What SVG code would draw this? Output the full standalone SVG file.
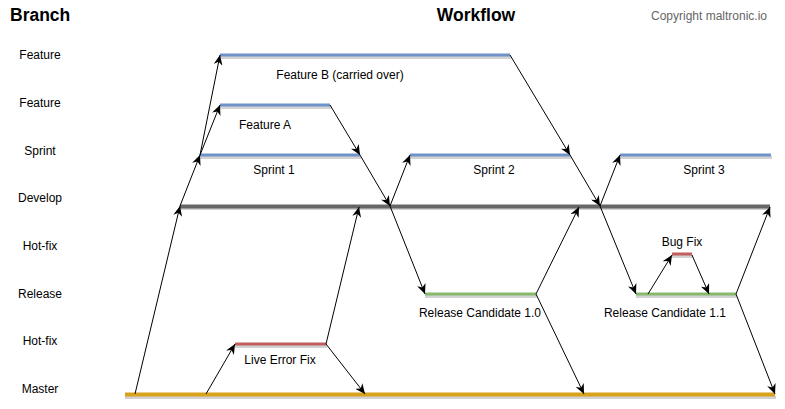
<svg xmlns="http://www.w3.org/2000/svg" width="785" height="409" viewBox="0 0 785 409">
<style>
text{font-family:"Liberation Sans",Arial,sans-serif;font-size:12px;fill:#000}
.lab{text-anchor:middle}
.title{font-weight:bold;font-size:17.5px}
.copy{fill:#666}
.sh{fill:#d2d2d2}
.blue{fill:#6f93c8}
.dev{fill:#666}
.mas{fill:#d8a21c}
.grn{fill:#86b96c}
.red{fill:#c25e5e}
.c line{stroke:#000;stroke-width:1;marker-end:url(#ah)}
</style>
<defs>
<marker id="ah" markerUnits="userSpaceOnUse" markerWidth="11" markerHeight="9" refX="10" refY="4.5" orient="auto">
<path d="M0,0 L10,4.5 L0,9 L3,4.5 z" fill="#000"/>
</marker>
</defs>
<g id="titles">
<text x="10" y="21" class="title">Branch</text>
<text x="476" y="21" class="title lab">Workflow</text>
<text x="709" y="20" class="copy lab">Copyright maltronic.io</text>
</g>
<g id="labels">
<text x="40" y="59" class="lab">Feature</text>
<text x="40" y="107" class="lab">Feature</text>
<text x="40" y="155" class="lab">Sprint</text>
<text x="40" y="202" class="lab">Develop</text>
<text x="40" y="250" class="lab">Hot-fix</text>
<text x="40" y="298" class="lab">Release</text>
<text x="40" y="345" class="lab">Hot-fix</text>
<text x="40" y="393" class="lab">Master</text>
</g>
<g id="develop"><rect x="180" y="207" width="591" height="3" class="sh"/><rect x="180" y="204.5" width="590" height="4" class="dev"/></g>
<g id="master"><rect x="125" y="396" width="651" height="3" class="sh"/><rect x="125" y="392.5" width="650" height="4" class="mas"/></g>
<g id="featureB"><rect x="220" y="56" width="291" height="3" class="sh"/><rect x="220" y="53.5" width="290" height="3" class="blue"/><text x="340" y="79" class="lab">Feature B (carried over)</text></g>
<g id="featureA"><rect x="220" y="106" width="111" height="3" class="sh"/><rect x="220" y="103.5" width="110" height="3" class="blue"/><text x="265" y="129" class="lab">Feature A</text></g>
<g id="sprint1"><rect x="200" y="156" width="161" height="3" class="sh"/><rect x="200" y="153.5" width="160" height="3" class="blue"/><text x="274" y="174" class="lab">Sprint 1</text></g>
<g id="sprint2"><rect x="410" y="156" width="161" height="3" class="sh"/><rect x="410" y="153.5" width="160" height="3" class="blue"/><text x="494" y="174" class="lab">Sprint 2</text></g>
<g id="sprint3"><rect x="620" y="156" width="152" height="3" class="sh"/><rect x="620" y="153.5" width="151" height="3" class="blue"/><text x="704" y="174" class="lab">Sprint 3</text></g>
<g id="rc10"><rect x="425" y="295" width="112" height="3" class="sh"/><rect x="425" y="292.5" width="111" height="3" class="grn"/><text x="480" y="317" class="lab">Release Candidate 1.0</text></g>
<g id="rc11"><rect x="636" y="295" width="101" height="3" class="sh"/><rect x="636" y="292.5" width="100" height="3" class="grn"/><text x="665" y="317" class="lab">Release Candidate 1.1</text></g>
<g id="bugfix"><rect x="672" y="255" width="21" height="3" class="sh"/><rect x="672" y="252.5" width="20" height="3" class="red"/><text x="682" y="246" class="lab">Bug Fix</text></g>
<g id="liveerror"><rect x="235" y="345" width="92" height="3" class="sh"/><rect x="235" y="342.5" width="91" height="3" class="red"/><text x="280" y="364" class="lab">Live Error Fix</text></g>
<g id="connectors" class="c">
<line x1="135" y1="394" x2="180" y2="206"/>
<line x1="180" y1="206" x2="200" y2="155"/>
<line x1="200" y1="155" x2="220" y2="55"/>
<line x1="200" y1="155" x2="220" y2="105"/>
<line x1="330" y1="105" x2="360" y2="155"/>
<line x1="360" y1="155" x2="390" y2="206"/>
<line x1="390" y1="206" x2="410" y2="155"/>
<line x1="390" y1="206" x2="425" y2="294"/>
<line x1="206" y1="394" x2="235" y2="344"/>
<line x1="326" y1="344" x2="365" y2="394"/>
<line x1="326" y1="344" x2="359" y2="207"/>
<line x1="510" y1="55" x2="570" y2="155"/>
<line x1="570" y1="155" x2="600" y2="206"/>
<line x1="600" y1="206" x2="620" y2="155"/>
<line x1="600" y1="206" x2="636" y2="294"/>
<line x1="536" y1="294" x2="579" y2="207"/>
<line x1="536" y1="294" x2="584" y2="394"/>
<line x1="648" y1="294" x2="672" y2="255"/>
<line x1="692" y1="255" x2="709" y2="294"/>
<line x1="736" y1="294" x2="770" y2="207"/>
<line x1="736" y1="294" x2="775" y2="394"/>
</g>
</svg>
